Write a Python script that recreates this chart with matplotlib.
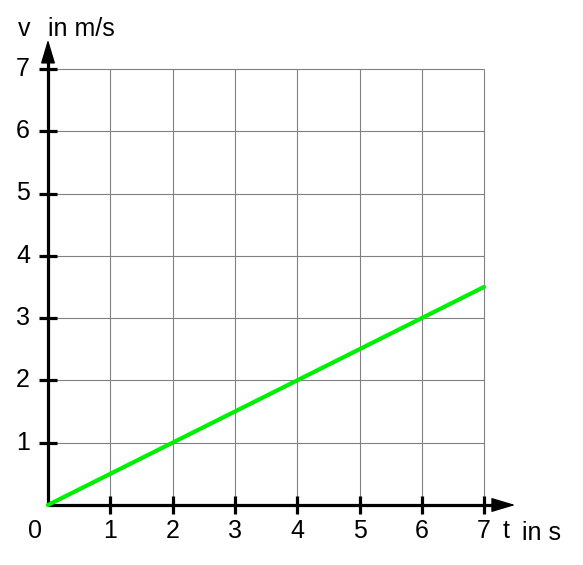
import matplotlib
matplotlib.use('Agg')
import matplotlib.pyplot as plt

plt.rcParams['font.family'] = ['Liberation Sans', 'DejaVu Sans']

# data
t_vals = [0, 7]
v_vals = [0, 3.5]
x_ticks = [1, 2, 3, 4, 5, 6, 7]
y_ticks = [1, 2, 3, 4, 5, 6, 7]

fig = plt.figure(figsize=(5.83, 5.65), dpi=100)
ax = fig.add_axes([0, 0, 1, 1])
unit = 62.3
ax.set_xlim(-48 / unit, (583 - 48) / unit)
ax.set_ylim(-(565 - 505) / unit, 505 / unit)
ax.axis('off')

# grid
ax.vlines(x_ticks, 0, 7, color='#808080', lw=0.8)
ax.hlines(y_ticks, 0, 7, color='#808080', lw=0.8)

# axes with arrows
ax.plot([0, 7.2], [0, 0], color='black', lw=2.3, solid_capstyle='butt')
ax.plot([0, 0], [0, 7.2], color='black', lw=2.3, solid_capstyle='butt')
head = dict(arrowstyle='-|>,head_length=1.5,head_width=0.45', color='black',
            lw=1, mutation_scale=10, shrinkA=0, shrinkB=0)
ax.annotate('', xy=(7.5, 0), xytext=(7.1, 0), arrowprops=head)
ax.annotate('', xy=(0, 7.47), xytext=(0, 7.1), arrowprops=head)

# ticks
tl = 0.14
ax.vlines(x_ticks, -tl, tl, color='black', lw=2.3)
ax.hlines(y_ticks, -tl, tl, color='black', lw=2.3)

fs = 18
for x in x_ticks:
    ax.text(x, -0.53, str(x), ha='center', va='baseline', fontsize=fs)
for y in y_ticks:
    ax.text(-0.29, y, str(y), ha='right', va='center', fontsize=fs)
ax.text(-0.1, -0.53, '0', ha='right', va='baseline', fontsize=fs)

ax.text(-0.48, 7.53, 'v', ha='left', va='baseline', fontsize=fs)
ax.text(0.0, 7.53, 'in m/s', ha='left', va='baseline', fontsize=fs)
ax.text(7.29, -0.53, 't', ha='left', va='baseline', fontsize=fs)
ax.text(7.61, -0.56, 'in s', ha='left', va='baseline', fontsize=fs)

# data line
ax.plot(t_vals, v_vals, color='#00ee00', lw=3, solid_capstyle='round')

fig.savefig('out.png', dpi=100)
